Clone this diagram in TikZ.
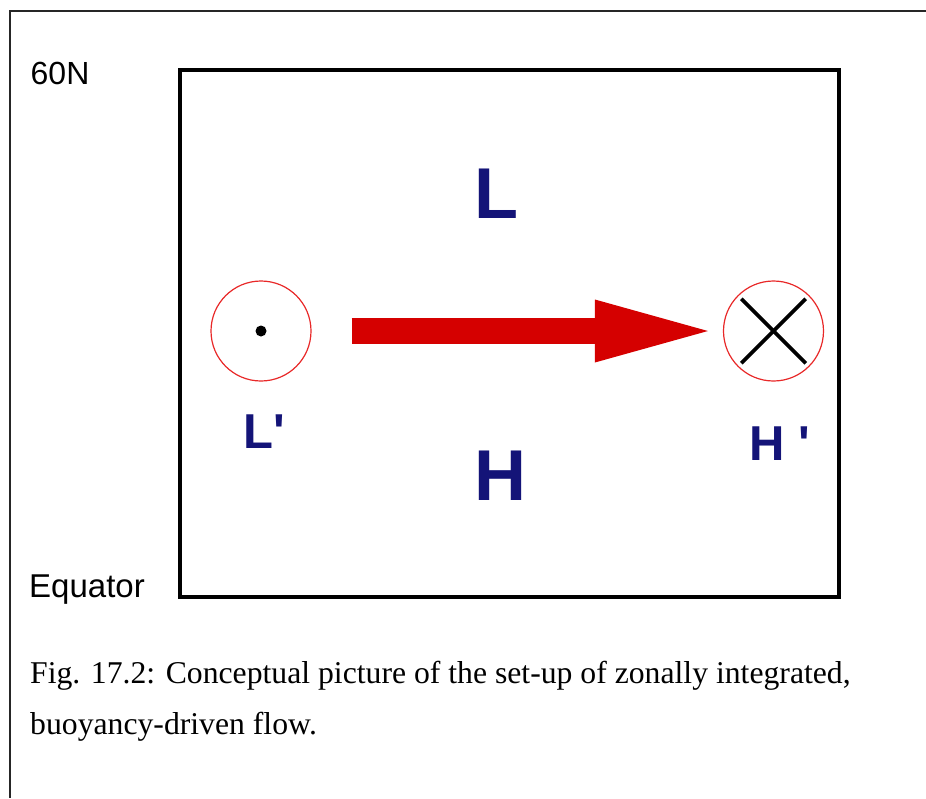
\documentclass[tikz,border=0pt]{standalone}
\usepackage{fontspec}
\setmainfont{Liberation Serif}
\setsansfont{Liberation Sans}
\usepackage{xcolor}
\usepackage{tikz}
\usetikzlibrary{arrows.meta,positioning}

\definecolor{pressblue}{RGB}{20,20,120}
\definecolor{flowred}{RGB}{213,0,0}
\definecolor{ringred}{RGB}{232,40,40}

\begin{document}
\begin{tikzpicture}[x=1pt,y=-1pt,
    labeltext/.style={anchor=base west,inner sep=0pt,font=\sffamily\fontsize{32}{38}\selectfont},
    captext/.style={anchor=base west,inner sep=0pt,font=\rmfamily\fontsize{31.7}{38}\selectfont},
    bigp/.style={anchor=base west,inner sep=0pt,text=pressblue,font=\sffamily\bfseries\fontsize{72}{80}\selectfont},
    smallp/.style={anchor=base west,inner sep=0pt,text=pressblue,font=\sffamily\bfseries\fontsize{49}{56}\selectfont},
    ring/.style={circle,draw=ringred,line width=1.2pt,minimum size=100pt,inner sep=0pt},
    flow/.style={draw=flowred,line width=26pt,-{Triangle[length=113pt,width=63pt,line width=0pt]},
        shorten <=40pt,shorten >=15pt},
    crossline/.style={line width=3.6pt,shorten <=5pt,shorten >=5pt}]
\useasboundingbox (0,0) rectangle (926,798);

% frame of the page
\draw[line width=2pt,black!85] (926,11) -- (10,11) -- (10,798);

% basin
\draw[line width=3.5pt] (180,70) rectangle (839,597);

\node[labeltext] (north) at (30.5,84) {60N};
\node[labeltext,font=\sffamily\fontsize{33}{38}\selectfont] (equator) at (29,597) {Equator};

\node[bigp] (low) at (474,218) {L};
\node[bigp] (high) at (474,500) {H};

% anomalies
\node[ring] (lcirc) at (261,331) {};
\node[circle,fill=black,minimum size=11pt,inner sep=0pt] (dot) at (lcirc.center) {};
\node[ring] (hcirc) at (773.5,331) {};
\draw[crossline] (hcirc.north west) -- (hcirc.south east);
\draw[crossline] (hcirc.north east) -- (hcirc.south west);

\node[smallp] (lprime) at (243.5,448) {L\textquotesingle};
\node[smallp] (hprime) at (749.5,460) {H \textquotesingle};

\draw[flow] (lcirc.east) -- (hcirc.west);

\node[captext] (cap1) at (30,683) {Fig. 17.2: Conceptual picture of the set-up of zonally integrated,};
\node[captext] (cap2) at (30,734) {buoyancy-driven flow.};
\end{tikzpicture}
\end{document}
